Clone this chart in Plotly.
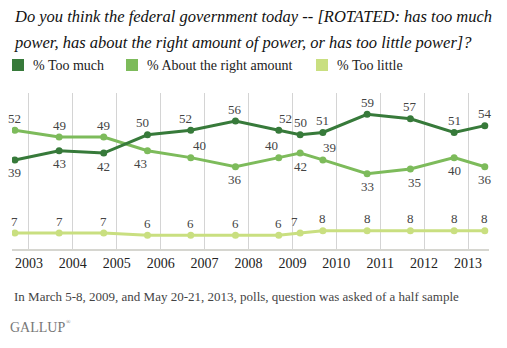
import plotly.graph_objects as go

# Poll field dates (mid-point of each survey)
dates = [
    "2002-09-06", "2003-09-09", "2004-09-14", "2005-09-13", "2006-09-08",
    "2007-09-15", "2008-09-09", "2009-03-06", "2009-09-11", "2010-09-14",
    "2011-09-09", "2012-09-07", "2013-05-20",
]

too_much = [39, 43, 42, 50, 52, 56, 52, 50, 51, 59, 57, 51, 54]
about_right = [52, 49, 49, 43, 40, 36, 40, 42, 39, 33, 35, 40, 36]
too_little = [7, 7, 7, 6, 6, 6, 6, 7, 8, 8, 8, 8, 8]

series_names = ["% Too much", "% About the right amount", "% Too little"]
series_colors = ["#377a3a", "#7dbb5b", "#c9df80"]

tick_years = [str(y) for y in range(2003, 2014)]

title_lines = [
    "Do you think the federal government today -- [ROTATED: has too much",
    "power, has about the right amount of power, or has too little power]?",
]

# Value-label placement: +1 above the point, -1 below; horizontal nudge in px
side_much = [-1, -1, -1, 1, 1, 1, 1, 1, 1, 1, 1, 1, 1]
nudge_much = [0, 0, 0, -5, -5, 0, 7, 0, 0, 0, 0, 0, 0]
side_right = [1, 1, 1, -1, 1, -1, 1, -1, 1, -1, -1, -1, -1]
nudge_right = [0, 0, 0, -7, 9, 0, -7, 0, 7, 0, 4, 0, 0]
side_little = [1] * 13
nudge_little = [0, 0, 0, 0, 0, 0, 0, -6, 0, 0, 0, 0, 0]

W, H = 507, 348
L, R, T, B = 12, 18, 93, 99
plot_w = W - L - R
plot_h = H - T - B


def px(x):
    return (x - L) / plot_w


def py(y):
    return (H - B - y) / plot_h


serif = "Liberation Serif"
fig = go.Figure()

all_series = [too_much, about_right, too_little]
sides = [side_much, side_right, side_little]
nudges = [nudge_much, nudge_right, nudge_little]

# draw lightest first so darker lines sit on top
for vals, name, color in reversed(list(zip(all_series, series_names, series_colors))):
    fig.add_trace(go.Scatter(
        x=dates, y=vals, name=name, mode="lines+markers",
        line=dict(color=color, width=3),
        marker=dict(color=color, size=7),
        showlegend=False, hoverinfo="x+y",
    ))

annotations = []
for vals, side, nudge in zip(all_series, sides, nudges):
    for d, v, s, n in zip(dates, vals, side, nudge):
        annotations.append(dict(
            x=d, y=v, xref="x", yref="y", text=str(v), showarrow=False,
            xanchor="center", yanchor="middle",
            xshift=n, yshift=12 if s > 0 else -13,
            font=dict(family=serif, size=13, color="#444444"),
        ))

# Title, two lines with generous leading
for line, ly in zip(title_lines, [16, 42]):
    annotations.append(dict(
        x=px(12), y=py(ly), xref="paper", yref="paper", xanchor="left",
        yanchor="middle", showarrow=False, text=f"<i>{line}</i>",
        font=dict(family=serif, size=16.5, color="#111111"),
    ))

# Legend
shapes = []
legend_x = [12, 126, 316]
for lx, name, color in zip(legend_x, series_names, series_colors):
    shapes.append(dict(
        type="rect", xref="paper", yref="paper",
        x0=px(lx), x1=px(lx + 12), y0=py(71), y1=py(59),
        fillcolor=color, line=dict(width=0),
    ))
    annotations.append(dict(
        x=px(lx + 19), y=py(65), xref="paper", yref="paper",
        xanchor="left", yanchor="middle", showarrow=False, text=name,
        font=dict(family=serif, size=14, color="#222222"),
    ))

# Footnote and source
annotations.append(dict(
    x=px(12), y=py(296), xref="paper", yref="paper", xanchor="left", yanchor="middle",
    showarrow=False,
    text="In March 5-8, 2009, and May 20-21, 2013, polls, question was asked of a half sample",
    font=dict(family=serif, size=13, color="#444444"),
))
annotations.append(dict(
    x=px(8), y=py(327), xref="paper", yref="paper", xanchor="left", yanchor="middle",
    showarrow=False, text="GALLUP",
    font=dict(family=serif, size=14, color="#777777"),
))
annotations.append(dict(
    x=px(64), y=py(322), xref="paper", yref="paper", xanchor="left", yanchor="middle",
    showarrow=False, text="®",
    font=dict(family=serif, size=6, color="#777777"),
))

fig.update_layout(
    width=W, height=H,
    margin=dict(l=L, r=R, t=T, b=B),
    paper_bgcolor="white", plot_bgcolor="white",
    showlegend=False,
    annotations=annotations,
    shapes=shapes,
    xaxis=dict(
        type="date",
        range=["2002-08-13", "2013-06-24"],
        tickvals=[f"{y}-01-01" for y in tick_years],
        ticktext=tick_years,
        showgrid=True, gridcolor="#d4d4d4", gridwidth=1,
        showline=True, linecolor="#d6d6d0", linewidth=2,
        ticks="", zeroline=False,
        tickfont=dict(family=serif, size=14, color="#222222"),
        fixedrange=True,
    ),
    yaxis=dict(
        range=[0, 68.3], visible=False, showgrid=False, zeroline=False,
        fixedrange=True,
    ),
)

fig.write_html("out.html")
